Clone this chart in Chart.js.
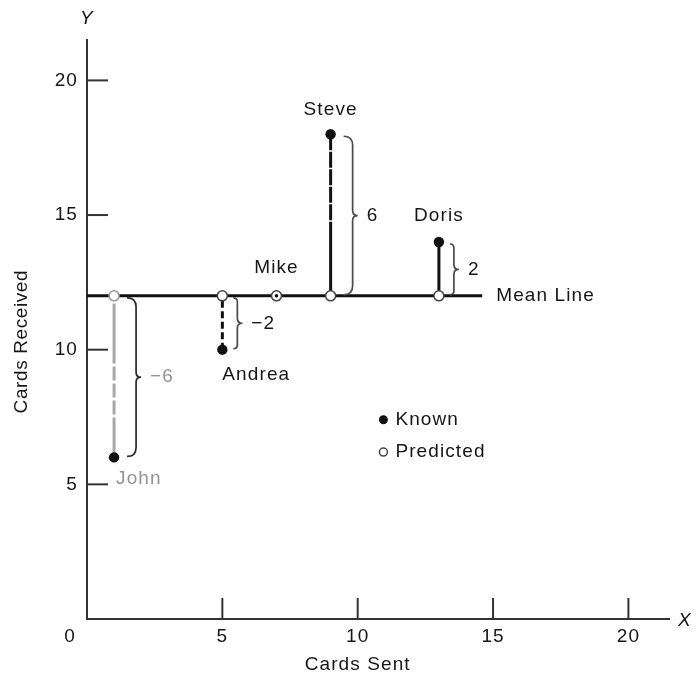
<!DOCTYPE html>
<html lang="en">
  <head>
    <meta charset="UTF-8" />
    <title>Cards Sent vs Cards Received</title>
    <script src="https://cdn.jsdelivr.net/npm/chart.js"></script>
    <style>
      body { margin: 0; background: #fff; }
    </style>
  </head>
  <body>
    <canvas id="residualChart" width="700" height="683"></canvas>

    <script>
      // data
      const names = ["John", "Andrea", "Mike", "Steve", "Doris"];
      const cardsSent = [1, 5, 7, 9, 13];
      const cardsReceived = [6, 10, 12, 18, 14];
      const residualLabels = ["\u22126", "\u22122", "", "6", "2"];
      const meanReceived = 12;
      const meanLineEnd = 14.6;
      const tickValues = [5, 10, 15, 20];

      const FONT = '19px "Liberation Sans", Arial, sans-serif';
      const INK = "#161616";
      const GRAY = "#949494";

      // per-person look of the residual line (John is drawn in gray)
      const residStyle = {
        John: { color: "#a8a8a8", dash: [40, 3, 14, 3, 14, 3, 14, 3, 60] },
        Andrea: { color: "#111", dash: [7, 3.5] },
        Steve: { color: "#111", dash: [16, 1.5, 16, 1.5, 16, 1.5, 16, 1.5, 16, 1.5, 80] },
        Doris: { color: "#111", dash: [] }
      };

      const datasets = [];

      // known values (filled dots)
      datasets.push({
        label: "Known",
        data: cardsSent.map((x, i) => ({ x, y: cardsReceived[i] })),
        showLine: false,
        pointRadius: names.map((n) => (n === "Mike" ? 1.8 : 5.2)),
        pointBackgroundColor: "#111",
        pointBorderWidth: 0,
        order: 0
      });

      // predicted values on the mean line (open circles)
      datasets.push({
        label: "Predicted",
        data: cardsSent.map((x) => ({ x, y: meanReceived })),
        showLine: false,
        pointRadius: 5,
        pointBackgroundColor: "#fff",
        pointBorderColor: names.map((n) => (n === "John" ? "#999" : "#444")),
        pointBorderWidth: 1.5,
        order: 1
      });

      // residual lines, drawn from the mean line out to the known value
      names.forEach((n, i) => {
        if (cardsReceived[i] === meanReceived) return;
        const s = residStyle[n];
        datasets.push({
          label: n,
          data: [
            { x: cardsSent[i], y: cardsReceived[i] },
            { x: cardsSent[i], y: meanReceived }
          ],
          showLine: true,
          borderColor: s.color,
          borderWidth: 3,
          borderDash: s.dash,
          pointRadius: 0,
          order: 2
        });
      });

      // mean line
      datasets.push({
        label: "Mean Line",
        data: [
          { x: 0, y: meanReceived },
          { x: meanLineEnd, y: meanReceived }
        ],
        showLine: true,
        borderColor: "#111",
        borderWidth: 3,
        pointRadius: 0,
        order: 3
      });

      function text(ctx, str, x, y, align, color) {
        ctx.fillStyle = color || INK;
        ctx.textAlign = align || "left";
        ctx.textBaseline = "middle";
        ctx.fillText(str, x, y);
      }

      function brace(ctx, x0, yTop, yBot, w) {
        const ym = (yTop + yBot) / 2;
        const xv = x0 + w;
        const tip = xv + 5;
        const r = Math.min(w, (yBot - yTop) / 4);
        ctx.beginPath();
        ctx.moveTo(x0, yTop);
        ctx.quadraticCurveTo(xv, yTop, xv, yTop + r);
        ctx.lineTo(xv, ym - 5);
        ctx.quadraticCurveTo(xv, ym, tip, ym);
        ctx.quadraticCurveTo(xv, ym, xv, ym + 5);
        ctx.lineTo(xv, yBot - r);
        ctx.quadraticCurveTo(xv, yBot, x0, yBot);
        ctx.stroke();
        return tip;
      }

      const annotations = {
        id: "annotations",
        afterDraw(chart) {
          const { ctx, scales } = chart;
          const xs = scales.x;
          const ys = scales.y;
          const area = chart.chartArea;
          ctx.save();
          ctx.font = FONT;
          ctx.letterSpacing = "1.1px";

          // inward tick marks and tick labels
          ctx.strokeStyle = "#333";
          ctx.lineWidth = 2;
          tickValues.forEach((v) => {
            const px = xs.getPixelForValue(v);
            ctx.beginPath();
            ctx.moveTo(px, area.bottom);
            ctx.lineTo(px, area.bottom - 21);
            ctx.stroke();
            text(ctx, String(v), px, area.bottom + 18, "center");

            const py = ys.getPixelForValue(v);
            ctx.beginPath();
            ctx.moveTo(area.left, py);
            ctx.lineTo(area.left + 21, py);
            ctx.stroke();
            text(ctx, String(v), area.left - 9, py, "right");
          });
          text(ctx, "0", area.left - 17, area.bottom + 18, "center");

          // axis titles and letters
          text(ctx, "Cards Sent", xs.getPixelForValue(10), area.bottom + 28 + 18, "center");
          ctx.save();
          ctx.letterSpacing = "0.6px";
          ctx.translate(22, ys.getPixelForValue(10.3));
          ctx.rotate(-Math.PI / 2);
          text(ctx, "Cards Received", 0, 0, "center");
          ctx.restore();
          ctx.save();
          ctx.font = 'italic 19px "Liberation Sans", Arial, sans-serif';
          text(ctx, "Y", area.left, 19, "center");
          text(ctx, "X", area.right + 16, area.bottom + 2, "center");
          ctx.restore();

          // braces with residual values
          const y0 = ys.getPixelForValue(meanReceived);
          names.forEach((n, i) => {
            if (!residualLabels[i]) return;
            const px = xs.getPixelForValue(cardsSent[i]);
            const py = ys.getPixelForValue(cardsReceived[i]);
            const top = Math.min(py, y0) + 2;
            const bot = Math.max(py, y0) - 1;
            const tall = bot - top > 100;
            ctx.strokeStyle = n === "John" ? "#2a2a2a" : "#4a4a4a";
            ctx.lineWidth = 1.7;
            const tip = brace(ctx, px + (tall ? 13 : 11), top, bot, tall ? 9 : 4);
            text(ctx, residualLabels[i], tip + 9, (top + bot) / 2,
              "left", n === "John" ? GRAY : INK);
          });

          // names
          const pos = (i) => [xs.getPixelForValue(cardsSent[i]), ys.getPixelForValue(cardsReceived[i])];
          let p = pos(0); text(ctx, names[0], p[0] + 2, p[1] + 21, "left", GRAY);
          p = pos(1); text(ctx, names[1], p[0], p[1] + 25, "left");
          p = pos(2); text(ctx, names[2], p[0], p[1] - 28, "center");
          p = pos(3); text(ctx, names[3], p[0], p[1] - 24, "center");
          p = pos(4); text(ctx, names[4], p[0], p[1] - 26, "center");

          // mean line label
          text(ctx, "Mean Line", xs.getPixelForValue(meanLineEnd) + 14, y0, "left");

          // legend
          const lx = xs.getPixelForValue(10.95);
          const ly1 = ys.getPixelForValue(7.4);
          const ly2 = ys.getPixelForValue(6.2);
          ctx.fillStyle = "#111";
          ctx.beginPath();
          ctx.arc(lx, ly1, 4.5, 0, Math.PI * 2);
          ctx.fill();
          ctx.strokeStyle = "#444";
          ctx.lineWidth = 1.5;
          ctx.fillStyle = "#fff";
          ctx.beginPath();
          ctx.arc(lx, ly2, 4, 0, Math.PI * 2);
          ctx.fill();
          ctx.stroke();
          text(ctx, "Known", lx + 12, ly1, "left");
          text(ctx, "Predicted", lx + 12, ly2, "left");
          ctx.restore();
        }
      };

      new Chart(document.getElementById("residualChart"), {
        type: "scatter",
        data: { datasets },
        options: {
          responsive: false,
          animation: false,
          layout: { padding: { left: 87, right: 31, top: 40, bottom: 64 } },
          plugins: { legend: { display: false }, tooltip: { enabled: false } },
          scales: {
            x: {
              type: "linear",
              min: 0,
              max: 21.5,
              ticks: { display: false },
              grid: { display: false, drawTicks: false },
              border: { display: true, color: "#333", width: 2 }
            },
            y: {
              type: "linear",
              min: 0,
              max: 21.5,
              ticks: { display: false },
              grid: { display: false, drawTicks: false },
              border: { display: true, color: "#333", width: 2 }
            }
          }
        },
        plugins: [annotations]
      });
    </script>
  </body>
</html>
